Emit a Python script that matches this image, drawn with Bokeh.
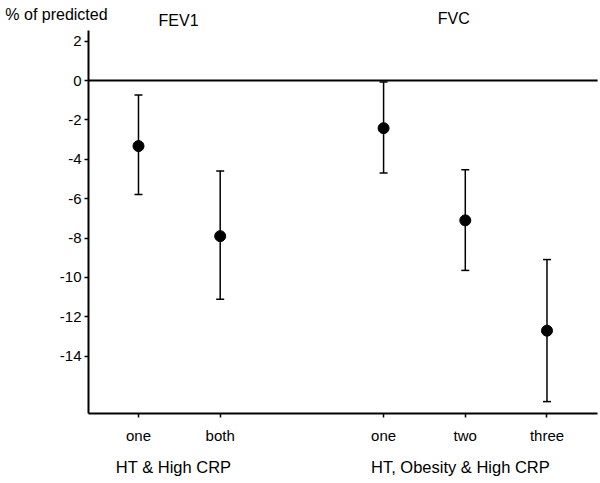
from bokeh.plotting import figure
from bokeh.models import ColumnDataSource, Whisker, TeeHead, Range1d, FixedTicker
from bokeh.core.properties import value
from bokeh.embed import file_html
from bokeh.resources import INLINE

# data
categories = ["one", "both", "one", "two", "three"]
x_pos = [1, 2, 4, 5, 6]
means = [-3.33, -7.9, -2.42, -7.1, -12.7]
lower = [-5.79, -11.1, -4.7, -9.64, -16.3]
upper = [-0.73, -4.6, -0.08, -4.53, -9.09]
y_ticks = [2, 0, -2, -4, -6, -8, -10, -12, -14]
y_label = "% of predicted"
panel_titles = ["FEV1", "FVC"]
panel_title_x = [1.49, 4.86]
group_labels = ["HT & High CRP", "HT, Obesity & High CRP"]
group_label_x = [1.43, 4.94]

# axis extents (data units)
X_AXIS_BOUNDS = (0.388, 6.62)
Y_AXIS_BOUNDS = (-16.92, 2.54)

FONT = "Liberation Sans"

p = figure(width=600, height=483, output_backend="svg", toolbar_location=None,
           x_range=Range1d(-0.689, 6.655), y_range=Range1d(-20.457, 4.061),
           min_border=0)
p.outline_line_color = None
p.xgrid.visible = False
p.ygrid.visible = False
p.background_fill_color = "white"
p.border_fill_color = "white"

# zero reference line
p.segment(x0=[X_AXIS_BOUNDS[0]], x1=[X_AXIS_BOUNDS[1]], y0=[0], y1=[0],
          line_color="black", line_width=2)

src = ColumnDataSource(dict(x=x_pos, m=means, lo=lower, hi=upper))
w = Whisker(source=src, base="x", lower="lo", upper="hi", line_color="black", line_width=1.5,
            upper_head=TeeHead(size=8, line_color="black", line_width=1.5),
            lower_head=TeeHead(size=8, line_color="black", line_width=1.5))
p.add_layout(w)
p.scatter("x", "m", source=src, size=11, color="black")

# axes
xa = p.xaxis[0]
ya = p.yaxis[0]
xa.fixed_location = Y_AXIS_BOUNDS[0]
xa.bounds = X_AXIS_BOUNDS
ya.fixed_location = X_AXIS_BOUNDS[0]
ya.bounds = Y_AXIS_BOUNDS
xa.ticker = FixedTicker(ticks=x_pos)
xa.major_label_overrides = {x: c for x, c in zip(x_pos, categories)}
ya.ticker = FixedTicker(ticks=y_ticks)
ya.major_label_overrides = {t: str(t) for t in y_ticks}
for ax in (xa, ya):
    ax.axis_line_width = 2
    ax.axis_line_color = "black"
    ax.major_tick_line_color = "black"
    ax.major_tick_line_width = 1.5
    ax.major_tick_in = 0
    ax.major_tick_out = 4
    ax.minor_tick_line_color = None
    ax.major_label_text_font = FONT
    ax.major_label_text_font_size = "15px"
    ax.major_label_text_color = "black"
xa.major_label_standoff = 9
ya.major_label_standoff = 3

# texts
def txt(xs, ys, ts, align="center", size="16px"):
    p.text(x=xs, y=ys, text=ts, text_font=value(FONT), text_font_size=size,
           text_align=align, text_baseline="middle", text_color="black")

txt([-0.63], [3.35], [y_label], align="left")
txt(panel_title_x, [3.05, 3.15], panel_titles)
txt(group_label_x, [-19.6, -19.6], group_labels, size="16.5px")

open("out.html", "w").write(file_html(p, INLINE))
